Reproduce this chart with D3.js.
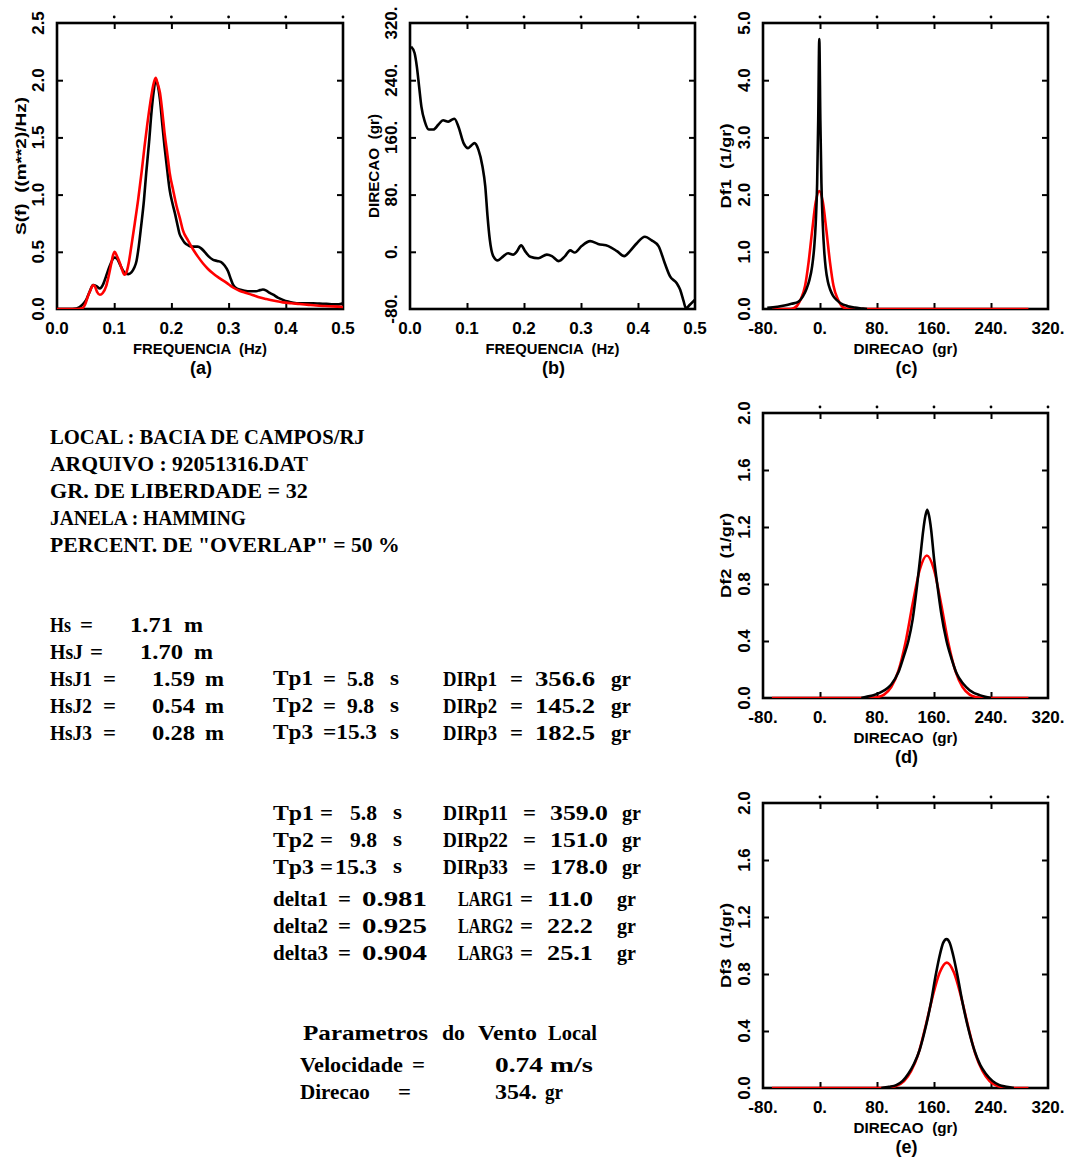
<!DOCTYPE html>
<html>
<head>
<meta charset="utf-8">
<script src="https://cdn.jsdelivr.net/npm/d3@7.9.0/dist/d3.min.js"></script>
<style>
  body { margin: 0; background: #fff; }
  svg text { font-family: "Liberation Sans", Arial, sans-serif; font-weight: bold; fill: #000; white-space: pre; }
  svg text.info { font-family: "Liberation Serif", "Times New Roman", serif; font-size: 20px; }
</style>
</head>
<body>
<script>
// (a) spectrum: observed (black) and fitted (red)
const specFreqObs = [0, 0.02, 0.034, 0.045, 0.051, 0.057, 0.063, 0.069, 0.075, 0.081, 0.086, 0.091, 0.095, 0.1, 0.105, 0.11, 0.115, 0.12, 0.125, 0.13, 0.135, 0.139, 0.143, 0.147, 0.152, 0.156, 0.161, 0.165, 0.169, 0.1725, 0.176, 0.18, 0.184, 0.188, 0.193, 0.197, 0.202, 0.206, 0.21, 0.214, 0.219, 0.223, 0.23, 0.235, 0.241, 0.246, 0.252, 0.258, 0.265, 0.273, 0.28, 0.287, 0.293, 0.299, 0.304, 0.308, 0.314, 0.319, 0.328, 0.337, 0.348, 0.355, 0.36, 0.366, 0.372, 0.378, 0.386, 0.395, 0.404, 0.413, 0.425, 0.436, 0.448, 0.459, 0.471, 0.483, 0.492, 0.5];
const specObs = [0, 0, 0.005, 0.04, 0.08, 0.15, 0.21, 0.2, 0.18, 0.22, 0.29, 0.36, 0.41, 0.45, 0.44, 0.39, 0.34, 0.31, 0.305, 0.32, 0.36, 0.42, 0.55, 0.72, 0.95, 1.19, 1.46, 1.71, 1.9, 2.0, 1.96, 1.83, 1.62, 1.42, 1.2, 1.04, 0.92, 0.84, 0.75, 0.66, 0.61, 0.58, 0.555, 0.545, 0.545, 0.545, 0.53, 0.5, 0.46, 0.43, 0.42, 0.41, 0.38, 0.33, 0.26, 0.21, 0.18, 0.17, 0.16, 0.155, 0.155, 0.165, 0.17, 0.16, 0.14, 0.125, 0.1, 0.08, 0.065, 0.055, 0.05, 0.05, 0.05, 0.047, 0.045, 0.04, 0.04, 0.05];
const specFreqFit = [0, 0.035, 0.045, 0.05, 0.054, 0.059, 0.063, 0.066, 0.07, 0.075, 0.08, 0.086, 0.09, 0.095, 0.098, 0.101, 0.105, 0.11, 0.114, 0.118, 0.122, 0.126, 0.13, 0.136, 0.142, 0.148, 0.153, 0.158, 0.163, 0.168, 0.1725, 0.176, 0.18, 0.184, 0.188, 0.193, 0.197, 0.203, 0.209, 0.215, 0.22, 0.229, 0.238, 0.246, 0.255, 0.264, 0.273, 0.284, 0.296, 0.307, 0.319, 0.331, 0.343, 0.355, 0.366, 0.38, 0.395, 0.41, 0.424, 0.44, 0.453, 0.468, 0.483, 0.5];
const specFit = [0, 0, 0.01, 0.05, 0.11, 0.17, 0.21, 0.2, 0.15, 0.125, 0.14, 0.2, 0.28, 0.4, 0.47, 0.5, 0.46, 0.4, 0.34, 0.3, 0.33, 0.42, 0.55, 0.75, 0.96, 1.2, 1.42, 1.62, 1.8, 1.95, 2.02, 1.97, 1.89, 1.73, 1.54, 1.35, 1.19, 1.04, 0.9, 0.79, 0.69, 0.6, 0.52, 0.46, 0.4, 0.35, 0.31, 0.27, 0.23, 0.19, 0.16, 0.14, 0.12, 0.1, 0.087, 0.072, 0.058, 0.05, 0.044, 0.036, 0.03, 0.026, 0.023, 0.018];

// (b) mean direction per frequency
const dirFreq = [0.002, 0.008, 0.012, 0.016, 0.02, 0.026, 0.033, 0.041, 0.05, 0.058, 0.067, 0.072, 0.078, 0.085, 0.094, 0.102, 0.108, 0.113, 0.12, 0.127, 0.132, 0.136, 0.14, 0.146, 0.154, 0.164, 0.172, 0.181, 0.187, 0.195, 0.202, 0.211, 0.225, 0.24, 0.249, 0.261, 0.272, 0.281, 0.289, 0.301, 0.316, 0.33, 0.348, 0.363, 0.376, 0.386, 0.398, 0.412, 0.424, 0.436, 0.447, 0.456, 0.468, 0.474, 0.48, 0.484, 0.491, 0.5];
const dirMean = [287, 278, 259, 231, 203, 182, 171, 171, 178, 184, 182, 184, 186, 175, 152, 145, 149, 152, 143, 120, 92, 50, 17, -6, -12, -6, -2, -4, 0, 9, 1, -7, -9, -4, -6, -13, -6, 2, -1, 8, 15, 11, 8, 1, -6, 1, 12, 21, 16, 8, -16, -34, -44, -53, -69, -79, -74, -67];

// (c) Df1
const df1DirObs = [-74, -60, -50, -40, -30, -24, -19, -15, -11, -8, -6, -4, -2.5, -1, 0.5, 2, 4, 6, 8, 11, 14, 18, 24, 29, 39, 49, 59, 66];
const df1Obs = [0.02, 0.04, 0.06, 0.09, 0.13, 0.22, 0.35, 0.5, 0.75, 1.1, 1.5, 2.2, 3.3, 4.72, 3.3, 2.2, 1.45, 1.0, 0.72, 0.48, 0.35, 0.24, 0.15, 0.1, 0.05, 0.025, 0.01, 0];
const df1DirFit = [-67.5, -42, -37, -32, -27, -21, -16, -11, -6, -1, 4, 9, 14, 19, 25, 30, 35, 40, 292.5];
const df1Fit = [0, 0, 0.015, 0.06, 0.17, 0.4, 0.82, 1.37, 1.87, 2.06, 1.87, 1.37, 0.82, 0.4, 0.17, 0.06, 0.015, 0, 0];

// (d) Df2
const df2DirObs = [58, 65, 75, 85, 95, 100, 110, 118, 124, 130, 136, 141, 145, 148, 150.5, 153, 156, 160, 164.5, 170, 177.6, 185, 192, 201, 210, 224, 232, 240];
const df2Obs = [0, 0.008, 0.02, 0.04, 0.07, 0.095, 0.18, 0.3, 0.4, 0.55, 0.78, 1.0, 1.18, 1.28, 1.32, 1.28, 1.18, 0.98, 0.8, 0.6, 0.4, 0.27, 0.17, 0.1, 0.055, 0.02, 0.008, 0];
const df2DirFit = [-67.5, 70, 80, 90, 100, 110, 120, 130, 140, 150, 160, 170, 180, 190, 200, 210, 220, 230, 292.5];
const df2Fit = [0, 0, 0.006, 0.024, 0.076, 0.19, 0.39, 0.66, 0.9, 1.0, 0.9, 0.66, 0.39, 0.19, 0.076, 0.024, 0.006, 0, 0];

// (e) Df3
const df3DirObs = [86, 97, 107, 116, 124, 132, 140, 147, 155, 162.7, 168, 173, 177.6, 182, 187, 192.5, 200, 209, 217, 225, 232.7, 242, 252, 260, 268, 272];
const df3Obs = [0, 0.008, 0.02, 0.05, 0.1, 0.17, 0.27, 0.4, 0.58, 0.8, 0.93, 1.02, 1.045, 1.02, 0.93, 0.8, 0.6, 0.4, 0.26, 0.16, 0.1, 0.05, 0.02, 0.01, 0.004, 0];
const df3DirFit = [-67.5, 88, 98, 108, 118, 128, 138, 148, 158, 168, 178, 188, 198, 208, 218, 228, 238, 248, 258, 268, 292.5];
const df3Fit = [0, 0, 0.005, 0.017, 0.049, 0.12, 0.24, 0.43, 0.64, 0.81, 0.88, 0.81, 0.64, 0.43, 0.24, 0.12, 0.049, 0.017, 0.005, 0, 0];

// tick values
const freqTicks = [0, 0.1, 0.2, 0.3, 0.4, 0.5];
const specTicks = [0, 0.5, 1.0, 1.5, 2.0, 2.5];
const dirTicks = [-80, 0, 80, 160, 240, 320];
const df1Ticks = [0, 1, 2, 3, 4, 5];
const dfTicks = [0, 0.4, 0.8, 1.2, 1.6, 2.0];

const svg = d3.select('body').append('svg').attr('width', 1070).attr('height', 1160);
svg.append('rect').attr('width', 1070).attr('height', 1160).attr('fill', '#fff');

const fmt1 = d3.format('.1f');
const fmtDot = d => d + '.';

function drawPanel(p) {
  const { left, right, top, bottom } = p;
  const x = d3.scaleLinear().domain(p.xDomain).range([left, right]);
  const y = d3.scaleLinear().domain(p.yDomain).range([bottom, top]);
  const innerX = p.xTicks.slice(1, -1);
  const innerY = p.yTicks.slice(1, -1);

  // frame
  svg.append('rect')
    .attr('x', left).attr('y', top)
    .attr('width', right - left).attr('height', bottom - top)
    .attr('fill', 'none').attr('stroke', '#000').attr('stroke-width', 2.6);

  // inward ticks on every side
  const clean = g => {
    g.select('.domain').remove();
    g.selectAll('line').attr('stroke', '#000').attr('stroke-width', 2);
  };
  svg.append('g').attr('transform', `translate(0,${bottom})`)
    .call(d3.axisBottom(x).tickValues(innerX).tickSize(-6).tickFormat('')).call(clean);
  svg.append('g').attr('transform', `translate(0,${top})`)
    .call(d3.axisTop(x).tickValues(innerX).tickSize(-6).tickFormat('')).call(clean);
  svg.append('g').attr('transform', `translate(${left},0)`)
    .call(d3.axisLeft(y).tickValues(innerY).tickSize(-6).tickFormat('')).call(clean);
  svg.append('g').attr('transform', `translate(${right},0)`)
    .call(d3.axisRight(y).tickValues(innerY).tickSize(-6).tickFormat('')).call(clean);

  // little dots above the top frame
  svg.append('g').selectAll('circle').data(p.xTicks.slice(1)).join('circle')
    .attr('cx', d => x(d)).attr('cy', top - 6).attr('r', 1.4).attr('fill', '#000');

  // tick labels
  svg.append('g').selectAll('text').data(p.xTicks).join('text')
    .attr('x', d => x(d)).attr('y', bottom + 19)
    .attr('text-anchor', 'middle').attr('dominant-baseline', 'central')
    .style('font-size', '17px').text(p.xFormat);
  svg.append('g').selectAll('text').data(p.yTicks).join('text')
    .attr('transform', d => `translate(${left - 19},${y(d)}) rotate(-90)`)
    .attr('text-anchor', 'middle').attr('dominant-baseline', 'central')
    .style('font-size', '17px').text(p.yFormat);

  // titles
  const cx = (left + right) / 2, cy = (top + bottom) / 2;
  svg.append('text').attr('x', cx - p.xTitleLen / 2).attr('y', bottom + 39)
    .attr('dominant-baseline', 'central')
    .attr('textLength', p.xTitleLen).attr('lengthAdjust', 'spacingAndGlyphs')
    .style('font-size', '15px').text(p.xTitle);
  svg.append('text').attr('x', cx + 1).attr('y', bottom + 59)
    .attr('text-anchor', 'middle').attr('dominant-baseline', 'central')
    .style('font-size', '18px').text(p.tag);
  svg.append('text').attr('transform', `translate(${p.yTitleX},${cy + p.yTitleLen / 2}) rotate(-90)`)
    .attr('dominant-baseline', 'central')
    .attr('textLength', p.yTitleLen).attr('lengthAdjust', 'spacingAndGlyphs')
    .style('font-size', '15px').text(p.yTitle);

  // curves
  const clipId = 'clip' + p.id;
  svg.append('clipPath').attr('id', clipId).append('rect')
    .attr('x', left).attr('y', top - 2).attr('width', right - left).attr('height', bottom - top + 2);
  const line = d3.line().x(d => x(d[0])).y(d => y(d[1])).curve(d3.curveMonotoneX);
  p.series.forEach(s => {
    svg.append('path').datum(d3.zip(s.xs, s.ys))
      .attr('clip-path', `url(#${clipId})`)
      .attr('fill', 'none').attr('stroke', s.color).attr('stroke-width', 2.6)
      .attr('stroke-linejoin', 'round').attr('d', line);
  });
}

drawPanel({
  id: 'a', left: 57, right: 343, top: 23, bottom: 309,
  xDomain: [0, 0.5], yDomain: [0, 2.5], xTicks: freqTicks, yTicks: specTicks,
  xFormat: fmt1, yFormat: fmt1, xTitle: 'FREQUENCIA  (Hz)', xTitleLen: 134, tag: '(a)',
  yTitle: 'S(f)  ((m**2)/Hz)', yTitleX: 20, yTitleLen: 138,
  series: [
    { xs: specFreqObs, ys: specObs, color: '#000' },
    { xs: specFreqFit, ys: specFit, color: '#ff0000' }
  ]
});

drawPanel({
  id: 'b', left: 410, right: 695, top: 23, bottom: 309,
  xDomain: [0, 0.5], yDomain: [-80, 320], xTicks: freqTicks, yTicks: dirTicks,
  xFormat: fmt1, yFormat: fmtDot, xTitle: 'FREQUENCIA  (Hz)', xTitleLen: 134, tag: '(b)',
  yTitle: 'DIRECAO  (gr)', yTitleX: 373, yTitleLen: 104,
  series: [{ xs: dirFreq, ys: dirMean, color: '#000' }]
});

drawPanel({
  id: 'c', left: 763, right: 1048, top: 23, bottom: 309,
  xDomain: [-80, 320], yDomain: [0, 5], xTicks: dirTicks, yTicks: df1Ticks,
  xFormat: fmtDot, yFormat: fmt1, xTitle: 'DIRECAO  (gr)', xTitleLen: 104, tag: '(c)',
  yTitle: 'Df1  (1/gr)', yTitleX: 725, yTitleLen: 85,
  series: [
    { xs: df1DirFit, ys: df1Fit, color: '#ff0000' },
    { xs: df1DirObs, ys: df1Obs, color: '#000' }
  ]
});

drawPanel({
  id: 'd', left: 763, right: 1048, top: 413, bottom: 698,
  xDomain: [-80, 320], yDomain: [0, 2], xTicks: dirTicks, yTicks: dfTicks,
  xFormat: fmtDot, yFormat: fmt1, xTitle: 'DIRECAO  (gr)', xTitleLen: 104, tag: '(d)',
  yTitle: 'Df2  (1/gr)', yTitleX: 725, yTitleLen: 85,
  series: [
    { xs: df2DirFit, ys: df2Fit, color: '#ff0000' },
    { xs: df2DirObs, ys: df2Obs, color: '#000' }
  ]
});

drawPanel({
  id: 'e', left: 763, right: 1048, top: 803, bottom: 1088,
  xDomain: [-80, 320], yDomain: [0, 2], xTicks: dirTicks, yTicks: dfTicks,
  xFormat: fmtDot, yFormat: fmt1, xTitle: 'DIRECAO  (gr)', xTitleLen: 104, tag: '(e)',
  yTitle: 'Df3  (1/gr)', yTitleX: 725, yTitleLen: 85,
  series: [
    { xs: df3DirFit, ys: df3Fit, color: '#ff0000' },
    { xs: df3DirObs, ys: df3Obs, color: '#000' }
  ]
});

// text block: each line = [centre y, [[x, string, width], ...]]
const infoLines = [
  [437, [[50, 'LOCAL : BACIA DE CAMPOS/RJ', 315]]],
  [464, [[50, 'ARQUIVO : 92051316.DAT', 258]]],
  [491, [[50, 'GR. DE LIBERDADE = 32', 258]]],
  [518, [[50, 'JANELA : HAMMING', 196]]],
  [545, [[50, 'PERCENT. DE "OVERLAP" = 50 %', 350]]],
  [625, [[50, 'Hs', 21], [80, '=', 13], [130, '1.71', 43], [184, 'm', 19]]],
  [652, [[50, 'HsJ', 33], [90, '=', 13], [140, '1.70', 43], [194, 'm', 19]]],
  [679, [[50, 'HsJ1', 42], [103, '=', 13], [152, '1.59', 43], [205, 'm', 19], [273, 'Tp1', 40], [323, '=', 13], [347, '5.8', 27], [390, 's', 9], [443, 'DIRp1', 54], [510, '=', 13], [535, '356.6', 60], [611, 'gr', 20]]],
  [706, [[50, 'HsJ2', 42], [103, '=', 13], [152, '0.54', 43], [205, 'm', 19], [273, 'Tp2', 40], [323, '=', 13], [347, '9.8', 27], [390, 's', 9], [443, 'DIRp2', 54], [510, '=', 13], [535, '145.2', 60], [611, 'gr', 20]]],
  [733, [[50, 'HsJ3', 42], [103, '=', 13], [152, '0.28', 43], [205, 'm', 19], [273, 'Tp3', 40], [323, '=15.3', 54], [390, 's', 9], [443, 'DIRp3', 54], [510, '=', 13], [535, '182.5', 60], [611, 'gr', 20]]],
  [813, [[273, 'Tp1', 41], [320, '=', 13], [350, '5.8', 27], [393, 's', 9], [443, 'DIRp11', 65], [523, '=', 13], [550, '359.0', 58], [622, 'gr', 19]]],
  [840, [[273, 'Tp2', 41], [320, '=', 13], [350, '9.8', 27], [393, 's', 9], [443, 'DIRp22', 65], [523, '=', 13], [550, '151.0', 58], [622, 'gr', 19]]],
  [867, [[273, 'Tp3', 41], [320, '=', 13], [335, '15.3', 42], [393, 's', 9], [443, 'DIRp33', 65], [523, '=', 13], [550, '178.0', 58], [622, 'gr', 19]]],
  [899, [[273, 'delta1', 55], [338, '=', 13], [362, '0.981', 65], [458, 'LARG1', 55], [520, '=', 13], [547, '11.0', 46], [617, 'gr', 19]]],
  [926, [[273, 'delta2', 55], [338, '=', 13], [362, '0.925', 65], [458, 'LARG2', 55], [520, '=', 13], [547, '22.2', 46], [617, 'gr', 19]]],
  [953, [[273, 'delta3', 55], [338, '=', 13], [362, '0.904', 65], [458, 'LARG3', 55], [520, '=', 13], [547, '25.1', 46], [617, 'gr', 19]]],
  [1033, [[303, 'Parametros', 125], [442, 'do', 23], [478, 'Vento', 59], [548, 'Local', 49]]],
  [1065, [[300, 'Velocidade', 103], [412, '=', 13], [495, '0.74', 48], [550, 'm/s', 43]]],
  [1092, [[300, 'Direcao', 70], [398, '=', 13], [495, '354.', 42], [545, 'gr', 18]]]
];

// each word is scaled horizontally to the width it takes in the original plot
infoLines.forEach(([yc, parts]) => {
  svg.append('g').selectAll('text').data(parts).join('text')
    .attr('class', 'info')
    .attr('dominant-baseline', 'central')
    .text(d => d[1])
    .attr('transform', function (d) {
      const k = d[2] / this.getComputedTextLength();
      return `translate(${d[0]},${yc}) scale(${k},1)`;
    });
});
</script>
</body>
</html>
